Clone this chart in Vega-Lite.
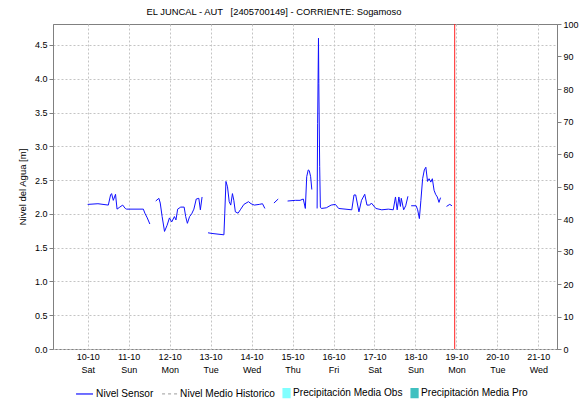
{
  "$schema": "https://vega.github.io/schema/vega-lite/v6.json",
  "width": 504,
  "height": 325,
  "autosize": {"type": "none"},
  "padding": {"left": 53, "top": 24, "right": 23, "bottom": 53},
  "background": "white",
  "title": {"text": "EL JUNCAL - AUT \u00a0 [2405700149] - CORRIENTE: Sogamoso", "fontSize": 9.4, "fontWeight": "normal", "font": "Liberation Sans", "color": "#000000", "anchor": "middle", "dx": -31, "offset": 3},
  "config": {
    "view": {"stroke": "#808080"},
    "font": "Liberation Sans",
    "axis": {"labelFont": "Liberation Sans", "titleFont": "Liberation Sans", "labelColor": "#000000", "domainColor": "#808080", "tickColor": "#808080", "gridColor": "#c4c4c4", "gridDash": [2, 2]}
  },
  "datasets": {
    "nivel": [
      {"t": "2020-10-10T00:00", "v": 2.14, "s": 1},
      {"t": "2020-10-10T06:00", "v": 2.15, "s": 1},
      {"t": "2020-10-10T12:05", "v": 2.13, "s": 1},
      {"t": "2020-10-10T13:24", "v": 2.28, "s": 1},
      {"t": "2020-10-10T14:00", "v": 2.30, "s": 1},
      {"t": "2020-10-10T15:00", "v": 2.20, "s": 1},
      {"t": "2020-10-10T16:18", "v": 2.29, "s": 1},
      {"t": "2020-10-10T17:12", "v": 2.07, "s": 1},
      {"t": "2020-10-10T18:48", "v": 2.10, "s": 1},
      {"t": "2020-10-10T20:30", "v": 2.13, "s": 1},
      {"t": "2020-10-10T22:00", "v": 2.08, "s": 1},
      {"t": "2020-10-10T22:48", "v": 2.07, "s": 1},
      {"t": "2020-10-11T08:36", "v": 2.07, "s": 1},
      {"t": "2020-10-11T09:30", "v": 2.01, "s": 1},
      {"t": "2020-10-11T10:54", "v": 1.94, "s": 1},
      {"t": "2020-10-11T12:24", "v": 1.85, "s": 1},
      {"t": "2020-10-11T15:51", "v": 2.19, "s": 2},
      {"t": "2020-10-11T17:42", "v": 2.23, "s": 2},
      {"t": "2020-10-11T18:30", "v": 2.16, "s": 2},
      {"t": "2020-10-11T19:36", "v": 1.96, "s": 2},
      {"t": "2020-10-11T21:00", "v": 1.74, "s": 2},
      {"t": "2020-10-11T22:30", "v": 1.83, "s": 2},
      {"t": "2020-10-11T23:54", "v": 1.94, "s": 2},
      {"t": "2020-10-12T01:12", "v": 1.88, "s": 2},
      {"t": "2020-10-12T02:48", "v": 1.96, "s": 2},
      {"t": "2020-10-12T03:42", "v": 1.91, "s": 2},
      {"t": "2020-10-12T04:42", "v": 2.07, "s": 2},
      {"t": "2020-10-12T06:30", "v": 2.10, "s": 2},
      {"t": "2020-10-12T08:30", "v": 2.10, "s": 2},
      {"t": "2020-10-12T09:24", "v": 1.96, "s": 2},
      {"t": "2020-10-12T10:24", "v": 1.86, "s": 2},
      {"t": "2020-10-12T11:42", "v": 1.96, "s": 2},
      {"t": "2020-10-12T12:54", "v": 2.00, "s": 2},
      {"t": "2020-10-12T14:12", "v": 2.07, "s": 2},
      {"t": "2020-10-12T15:36", "v": 2.22, "s": 2},
      {"t": "2020-10-12T17:06", "v": 2.23, "s": 2},
      {"t": "2020-10-12T18:00", "v": 2.06, "s": 2},
      {"t": "2020-10-12T19:00", "v": 2.25, "s": 2},
      {"t": "2020-10-12T22:30", "v": 1.72, "s": 3},
      {"t": "2020-10-13T00:48", "v": 1.71, "s": 3},
      {"t": "2020-10-13T07:48", "v": 1.69, "s": 3},
      {"t": "2020-10-13T08:18", "v": 2.01, "s": 3},
      {"t": "2020-10-13T09:00", "v": 2.48, "s": 3},
      {"t": "2020-10-13T09:54", "v": 2.40, "s": 3},
      {"t": "2020-10-13T10:54", "v": 2.18, "s": 3},
      {"t": "2020-10-13T11:48", "v": 2.13, "s": 3},
      {"t": "2020-10-13T12:48", "v": 2.30, "s": 3},
      {"t": "2020-10-13T13:36", "v": 2.20, "s": 3},
      {"t": "2020-10-13T14:30", "v": 2.03, "s": 3},
      {"t": "2020-10-13T16:06", "v": 2.01, "s": 3},
      {"t": "2020-10-13T17:24", "v": 2.06, "s": 3},
      {"t": "2020-10-13T19:30", "v": 2.14, "s": 3},
      {"t": "2020-10-13T22:12", "v": 2.18, "s": 3},
      {"t": "2020-10-13T23:42", "v": 2.15, "s": 3},
      {"t": "2020-10-14T01:36", "v": 2.13, "s": 3},
      {"t": "2020-10-14T04:30", "v": 2.14, "s": 3},
      {"t": "2020-10-14T06:24", "v": 2.15, "s": 3},
      {"t": "2020-10-14T07:48", "v": 2.08, "s": 3},
      {"t": "2020-10-14T13:06", "v": 2.16, "s": 4},
      {"t": "2020-10-14T15:36", "v": 2.22, "s": 4},
      {"t": "2020-10-14T21:06", "v": 2.19, "s": 5},
      {"t": "2020-10-15T01:36", "v": 2.20, "s": 5},
      {"t": "2020-10-15T04:24", "v": 2.20, "s": 5},
      {"t": "2020-10-15T06:18", "v": 2.22, "s": 5},
      {"t": "2020-10-15T07:30", "v": 2.08, "s": 5},
      {"t": "2020-10-15T08:18", "v": 2.55, "s": 5},
      {"t": "2020-10-15T09:12", "v": 2.65, "s": 5},
      {"t": "2020-10-15T09:48", "v": 2.64, "s": 5},
      {"t": "2020-10-15T10:36", "v": 2.55, "s": 5},
      {"t": "2020-10-15T11:18", "v": 2.36, "s": 5},
      {"t": "2020-10-15T14:24", "v": 2.08, "s": 6},
      {"t": "2020-10-15T14:42", "v": 3.34, "s": 6},
      {"t": "2020-10-15T15:12", "v": 4.60, "s": 6},
      {"t": "2020-10-15T15:24", "v": 3.93, "s": 6},
      {"t": "2020-10-15T15:54", "v": 2.70, "s": 6},
      {"t": "2020-10-15T16:18", "v": 2.10, "s": 6},
      {"t": "2020-10-15T16:54", "v": 2.08, "s": 6},
      {"t": "2020-10-15T19:48", "v": 2.09, "s": 6},
      {"t": "2020-10-15T22:36", "v": 2.13, "s": 6},
      {"t": "2020-10-16T01:06", "v": 2.14, "s": 6},
      {"t": "2020-10-16T03:00", "v": 2.08, "s": 6},
      {"t": "2020-10-16T10:42", "v": 2.06, "s": 6},
      {"t": "2020-10-16T12:00", "v": 2.28, "s": 6},
      {"t": "2020-10-16T13:00", "v": 2.28, "s": 6},
      {"t": "2020-10-16T14:54", "v": 2.03, "s": 6},
      {"t": "2020-10-16T16:24", "v": 2.20, "s": 6},
      {"t": "2020-10-16T18:18", "v": 2.29, "s": 6},
      {"t": "2020-10-16T19:36", "v": 2.13, "s": 6},
      {"t": "2020-10-16T21:12", "v": 2.13, "s": 6},
      {"t": "2020-10-16T22:12", "v": 2.16, "s": 6},
      {"t": "2020-10-17T00:48", "v": 2.08, "s": 6},
      {"t": "2020-10-17T04:18", "v": 2.06, "s": 6},
      {"t": "2020-10-17T08:06", "v": 2.07, "s": 6},
      {"t": "2020-10-17T11:00", "v": 2.06, "s": 6},
      {"t": "2020-10-17T12:18", "v": 2.25, "s": 6},
      {"t": "2020-10-17T13:18", "v": 2.06, "s": 6},
      {"t": "2020-10-17T14:18", "v": 2.25, "s": 6},
      {"t": "2020-10-17T15:12", "v": 2.11, "s": 6},
      {"t": "2020-10-17T15:42", "v": 2.23, "s": 6},
      {"t": "2020-10-17T17:06", "v": 2.06, "s": 6},
      {"t": "2020-10-17T18:18", "v": 2.12, "s": 6},
      {"t": "2020-10-17T19:36", "v": 2.26, "s": 6},
      {"t": "2020-10-17T21:30", "v": 2.12, "s": 7},
      {"t": "2020-10-18T00:24", "v": 2.12, "s": 7},
      {"t": "2020-10-18T01:18", "v": 2.06, "s": 7},
      {"t": "2020-10-18T02:18", "v": 1.93, "s": 7},
      {"t": "2020-10-18T03:12", "v": 2.20, "s": 7},
      {"t": "2020-10-18T04:12", "v": 2.52, "s": 7},
      {"t": "2020-10-18T05:12", "v": 2.65, "s": 7},
      {"t": "2020-10-18T06:06", "v": 2.69, "s": 7},
      {"t": "2020-10-18T07:06", "v": 2.48, "s": 7},
      {"t": "2020-10-18T08:00", "v": 2.52, "s": 7},
      {"t": "2020-10-18T09:00", "v": 2.47, "s": 7},
      {"t": "2020-10-18T09:54", "v": 2.52, "s": 7},
      {"t": "2020-10-18T10:54", "v": 2.35, "s": 7},
      {"t": "2020-10-18T11:48", "v": 2.29, "s": 7},
      {"t": "2020-10-18T12:48", "v": 2.25, "s": 7},
      {"t": "2020-10-18T13:48", "v": 2.17, "s": 7},
      {"t": "2020-10-18T14:42", "v": 2.24, "s": 7},
      {"t": "2020-10-18T18:12", "v": 2.11, "s": 8},
      {"t": "2020-10-18T20:06", "v": 2.14, "s": 8},
      {"t": "2020-10-18T21:24", "v": 2.12, "s": 8}
    ],
    "corte": [{"t": "2020-10-18T23:00"}],
    "precip": []
  },
  "layer": [
    {
      "data": {"name": "nivel"},
      "mark": {"type": "line", "strokeWidth": 1, "interpolate": "linear"},
      "encoding": {
        "x": {
          "field": "t", "type": "temporal",
          "scale": {"domain": ["2020-10-09T06:36", "2020-10-21T08:00"], "nice": false},
          "axis": {"title": null, "tickCount": {"interval": "day", "step": 1}, "labelExpr": "[timeFormat(datum.value, '%d-%m'), timeFormat(datum.value, '%a')]", "grid": true, "ticks": false, "domain": false, "labelFontSize": 9, "labelPadding": 3, "labelLineHeight": 13, "labelFlush": false, "labelOverlap": false}
        },
        "y": {
          "field": "v", "type": "quantitative",
          "scale": {"domain": [0, 4.81], "nice": false, "zero": true},
          "axis": {"title": "Nivel del Agua [m]", "values": [0, 0.5, 1, 1.5, 2, 2.5, 3, 3.5, 4, 4.5], "format": ".1f", "grid": true, "tickSize": 4, "labelFontSize": 9, "titleFontSize": 9.5, "titleFontWeight": "normal", "titleColor": "#000000", "titleX": -31, "titleY": 162.5, "titleBaseline": "middle", "titleAlign": "center", "titleAngle": -90, "labelPadding": 2}
        },
        "detail": {"field": "s", "type": "nominal"},
        "color": {
          "datum": "Nivel Sensor",
          "scale": {"domain": ["Nivel Sensor", "Nivel Medio Historico", "Precipitación Media Obs", "Precipitación Media Pro"], "range": ["#1010ff", "#b0b0b0", "#80ffff", "#40c0c0"]},
          "legend": {
            "title": null, "orient": "none", "legendX": 31, "legendY": 364, "direction": "horizontal",
            "symbolSize": 64, "symbolStrokeWidth": 1.2, "labelFontSize": 10.1, "labelFont": "Liberation Sans", "labelColor": "#000000", "labelOffset": 2, "columnPadding": 5,
            "encode": {"symbols": {"update": {
              "shape": {"signal": "datum.value == 'Nivel Sensor' ? 'M-3.25,0H1' : datum.value == 'Nivel Medio Historico' ? 'M-2.75,0H-2M-1.25,0H-0.5M0.25,0H1' : 'M-0.75,-1.125H1V1.125H-0.75Z'"},
              "fill": {"signal": "datum.value == 'Precipitación Media Obs' ? '#80ffff' : datum.value == 'Precipitación Media Pro' ? '#40c0c0' : 'transparent'"},
              "stroke": {"signal": "datum.value == 'Nivel Sensor' ? '#0000ff' : datum.value == 'Nivel Medio Historico' ? '#b0b0b0' : 'transparent'"}
            }}}
          }
        }
      }
    },
    {
      "data": {"name": "corte"},
      "mark": {"type": "rule", "color": "#ff2020", "strokeWidth": 1},
      "encoding": {"x": {"field": "t", "type": "temporal"}}
    },
    {
      "data": {"name": "precip"},
      "mark": {"type": "bar", "color": "#80ffff"},
      "encoding": {
        "x": {"field": "t", "type": "temporal"},
        "y": {
          "field": "p", "type": "quantitative",
          "scale": {"domain": [0, 100], "nice": false},
          "axis": {"orient": "right", "title": null, "values": [0, 10, 20, 30, 40, 50, 60, 70, 80, 90, 100], "grid": false, "tickSize": 4, "labelFontSize": 9, "labelPadding": 2}
        }
      }
    }
  ],
  "resolve": {"scale": {"y": "independent", "color": "shared"}, "axis": {"y": "independent"}}
}
